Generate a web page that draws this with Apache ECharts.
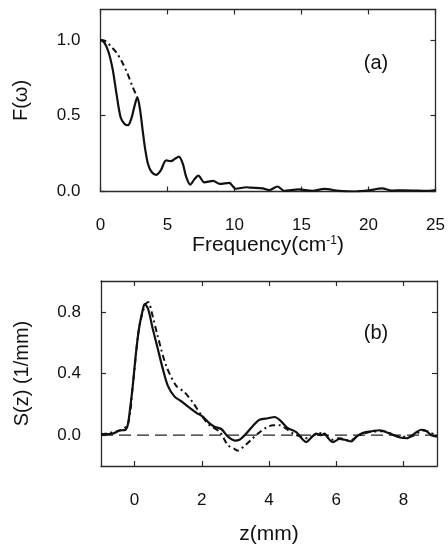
<!DOCTYPE html>
<html>
<head>
<meta charset="utf-8">
<script src="https://cdn.jsdelivr.net/npm/echarts@6/dist/echarts.min.js"></script>
<style>
html,body{margin:0;padding:0;background:#fff;}
#chart{width:448px;height:546px;}
</style>
</head>
<body>
<div id="chart"></div>
<script>
// ---- Panel (a): F(omega) vs frequency ----
var freqX = [0, 0.3, 0.6, 0.9, 1.2, 1.5, 1.8, 2.05, 2.3, 2.5, 2.75, 2.95, 3.15, 3.35, 3.55, 3.8, 4.15, 4.5, 4.9, 5.25, 5.55, 5.85, 6.15, 6.4, 6.7, 7.0, 7.3, 7.75, 8.4, 8.9, 9.6, 10.1, 10.9, 11.2, 12.1, 12.6, 13.2, 13.7, 14.8, 15.8, 16.7, 17.8, 19.0, 20.0, 21.0, 21.75, 22.6, 23.5, 24.2, 25];
var freqF = [1.0, 0.98, 0.92, 0.81, 0.64, 0.49, 0.445, 0.437, 0.48, 0.55, 0.62, 0.54, 0.40, 0.27, 0.18, 0.13, 0.11, 0.14, 0.205, 0.2, 0.215, 0.23, 0.18, 0.095, 0.045, 0.08, 0.105, 0.06, 0.07, 0.05, 0.057, 0.018, 0.028, 0.025, 0.02, 0.01, 0.033, 0.005, 0.014, 0.005, 0.017, 0.004, 0.0, 0.007, 0.02, 0.006, 0.008, 0.006, 0.004, 0.01];
var fitX = [0, 0.4, 0.8, 1.2, 1.6, 2.0, 2.4, 2.75];
var fitF = [1.0, 0.99, 0.955, 0.915, 0.855, 0.78, 0.69, 0.62];
var freqTicks = [0, 5, 10, 15, 20, 25];
var fTicks = [0, 0.5, 1.0];

// ---- Panel (b): S(z) vs z ----
var zX = [-1, -0.65, -0.45, -0.27, -0.2, -0.13, -0.05, 0.03, 0.13, 0.25, 0.3, 0.4, 0.54, 0.69, 0.84, 0.99, 1.19, 1.39, 1.59, 1.84, 2.03, 2.23, 2.38, 2.58, 2.78, 2.98, 3.12, 3.32, 3.52, 3.72, 3.97, 4.17, 4.36, 4.56, 4.81, 5.01, 5.11, 5.26, 5.4, 5.55, 5.65, 5.8, 5.9, 6.1, 6.25, 6.45, 6.6, 6.8, 7.1, 7.3, 7.6, 7.9, 8.1, 8.33, 8.53, 8.68, 8.83, 9.0];
var sSolid = [0.005, 0.01, 0.03, 0.035, 0.07, 0.18, 0.33, 0.51, 0.69, 0.82, 0.85, 0.82, 0.69, 0.56, 0.43, 0.32, 0.25, 0.22, 0.185, 0.145, 0.12, 0.077, 0.055, 0.04, -0.01, -0.035, -0.03, 0.01, 0.06, 0.10, 0.11, 0.118, 0.09, 0.045, 0.02, -0.03, -0.045, -0.015, 0.01, 0.0, 0.01, -0.03, -0.045, -0.025, -0.03, -0.04, -0.01, 0.015, 0.027, 0.032, 0.01, -0.015, -0.02, 0.01, 0.035, 0.027, 0.0, -0.01];
var zDashX = [-1, -0.45, -0.2, -0.05, 0.13, 0.3, 0.4, 0.54, 0.69, 0.94, 1.24, 1.48, 1.74, 1.98, 2.23, 2.53, 2.78, 2.98, 3.07, 3.27, 3.47, 3.67, 3.92, 4.12, 4.32, 4.52, 4.72, 4.95, 5.15, 5.4, 5.6, 5.85, 6.1, 6.4, 6.7, 7.0, 7.4, 7.9, 8.2, 8.6, 9.0];
var sDash = [0.005, 0.03, 0.07, 0.33, 0.69, 0.84, 0.864, 0.77, 0.64, 0.45, 0.32, 0.28, 0.21, 0.13, 0.065, 0.022, -0.065, -0.09, -0.1, -0.07, -0.03, 0.01, 0.05, 0.065, 0.065, 0.04, 0.01, -0.01, -0.02, 0.005, 0.015, -0.03, -0.02, -0.035, 0.0, 0.02, 0.025, -0.01, -0.01, 0.03, -0.005];
var baseZ = [-1, 9];
var baseS = [0, 0];
var zTicks = [0, 2, 4, 6, 8];
var sTicks = [0, 0.4, 0.8];

function zip(a, b) { return a.map(function (v, i) { return [v, b[i]]; }); }

var FONT = 'Liberation Sans, Arial, Helvetica, sans-serif';
var INK = '#111';
var FRAME = '#2a2a2a';

function axis(opts) {
  var base = {
    type: 'value',
    axisLine: { show: true, onZero: false, lineStyle: { color: FRAME, width: 1.3 } },
    axisTick: { show: true, inside: true, length: 5, lineStyle: { color: FRAME, width: 1.2 }, customValues: opts.ticks },
    axisLabel: { show: !!opts.label, customValues: opts.ticks, fontSize: 17, fontFamily: FONT, color: INK, margin: opts.margin || 20,
      formatter: opts.fmt || null },
    splitLine: { show: false }
  };
  for (var k in opts.extra) base[k] = opts.extra[k];
  return base;
}
function fmt1(v) { return Number(v).toFixed(1); }
function fmt0(v) { return String(Math.round(v)); }

var option = {
  animation: false,
  backgroundColor: '#fff',
  grid: [
    { left: 100.5, right: 11, top: 9.5, height: 182 },
    { left: 101, right: 11, top: 281, height: 185 }
  ],
  xAxis: [
    axis({ ticks: freqTicks, label: true, margin: 25, fmt: fmt0, extra: {
      gridIndex: 0, position: 'bottom', min: 0, max: 25,
      name: 'Frequency(cm{sup|-1})', nameLocation: 'middle', nameGap: 42,
      nameTextStyle: { fontSize: 21, fontFamily: FONT, color: INK,
        rich: { sup: { fontSize: 12, fontFamily: FONT, color: INK, verticalAlign: 'top' } } } } }),
    axis({ ticks: freqTicks, extra: { gridIndex: 0, position: 'top', min: 0, max: 25 } }),
    axis({ ticks: zTicks, label: true, margin: 26, fmt: fmt0, extra: {
      gridIndex: 1, position: 'bottom', min: -1, max: 9,
      name: 'z(mm)', nameLocation: 'middle', nameGap: 58,
      nameTextStyle: { fontSize: 21, fontFamily: FONT, color: INK } } }),
    axis({ ticks: zTicks, extra: { gridIndex: 1, position: 'top', min: -1, max: 9 } })
  ],
  yAxis: [
    axis({ ticks: fTicks, label: true, margin: 20, fmt: fmt1, extra: {
      gridIndex: 0, position: 'left', min: 0, max: 1.2,
      name: 'F(\u03c9)', nameLocation: 'middle', nameGap: 69,
      nameTextStyle: { fontSize: 20, fontFamily: FONT, color: INK } } }),
    axis({ ticks: fTicks, extra: { gridIndex: 0, position: 'right', min: 0, max: 1.2 } }),
    axis({ ticks: sTicks, label: true, margin: 20, fmt: fmt1, extra: {
      gridIndex: 1, position: 'left', min: -0.2, max: 1.0,
      name: 'S(z) (1/mm)', nameLocation: 'middle', nameGap: 69,
      nameTextStyle: { fontSize: 20, fontFamily: FONT, color: INK } } }),
    axis({ ticks: sTicks, extra: { gridIndex: 1, position: 'right', min: -0.2, max: 1.0 } })
  ],
  graphic: [
    { type: 'text', x: 376, y: 63, style: { text: '(a)', font: '20px ' + FONT, fill: INK, align: 'center', verticalAlign: 'middle' } },
    { type: 'text', x: 376, y: 333, style: { text: '(b)', font: '20px ' + FONT, fill: INK, align: 'center', verticalAlign: 'middle' } }
  ],
  series: [
    { type: 'line', xAxisIndex: 0, yAxisIndex: 0, data: zip(fitX, fitF), showSymbol: false, smooth: 0.3,
      lineStyle: { color: INK, width: 2, type: [6, 3.5, 2, 3.5] }, z: 2 },
    { type: 'line', xAxisIndex: 0, yAxisIndex: 0, data: zip(freqX, freqF), showSymbol: false, smooth: 0.3,
      lineStyle: { color: INK, width: 2.2 }, z: 3 },
    { type: 'line', xAxisIndex: 2, yAxisIndex: 2, data: zip(baseZ, baseS), showSymbol: false,
      lineStyle: { color: '#222', width: 1.3, type: [12, 6] }, z: 1 },
    { type: 'line', xAxisIndex: 2, yAxisIndex: 2, data: zip(zDashX, sDash), showSymbol: false, smooth: 0.3,
      lineStyle: { color: INK, width: 2, type: [6, 3.5, 2, 3.5] }, z: 2 },
    { type: 'line', xAxisIndex: 2, yAxisIndex: 2, data: zip(zX, sSolid), showSymbol: false, smooth: 0.3,
      lineStyle: { color: INK, width: 2.2 }, z: 3 }
  ]
};

var chart = echarts.init(document.getElementById('chart'), null, { renderer: 'canvas' });
chart.setOption(option);
</script>
</body>
</html>
